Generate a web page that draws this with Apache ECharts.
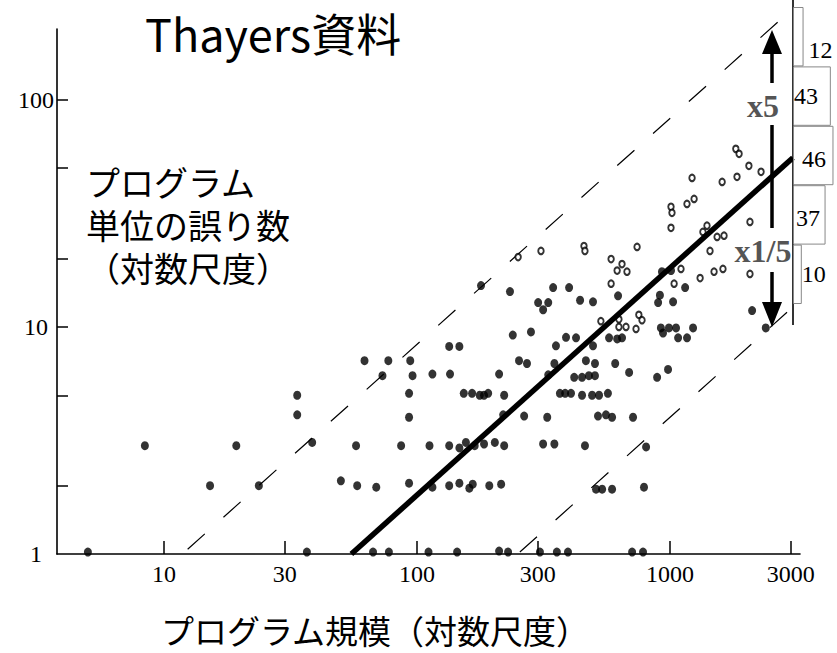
<!DOCTYPE html>
<html>
<head>
<meta charset="utf-8">
<script src="https://cdn.jsdelivr.net/npm/echarts@6/dist/echarts.min.js"></script>
<style>
  html, body { margin: 0; padding: 0; background: #fff; }
  #chart { width: 837px; height: 653px; }
</style>
</head>
<body>
<div id="chart"></div>
<script>
// Axis ticks and labels (log-log plot)
const xTickValues = [10, 30, 100, 300, 1000, 3000];
const yTickValues = [2, 5, 10, 20, 50, 100];
const yLabelValues = [1, 10, 100];

// Programs: [size, errors] — solid dots
const filledPoints = [
  [5.0, 1.02], [8.4, 3], [15.2, 2], [19.3, 3], [23.7, 2], [33.6, 5], [33.6, 4.1], [38.5, 3.1],
  [36.7, 1.02], [50, 2.1], [57.4, 3], [58, 2], [62, 7.1], [69, 1.97], [67, 1.02], [73, 6.1],
  [77, 7.1], [77.4, 1.02], [86.5, 3], [94, 7.1], [96, 6.1], [93, 5.1], [93, 4], [93, 2.05],
  [179, 15.2], [233, 14.3], [301, 12.8], [315, 11.9], [330, 12.8], [239, 9.2], [282, 9.5],
  [134, 8.2], [147, 8.2], [253, 7.1], [272, 6.9], [115, 6.2], [135, 6.2], [211, 6.2],
  [153, 5.1], [165, 5.1], [177, 5], [184, 5], [191, 5.1], [221, 5], [219, 4.1], [265, 4.05],
  [327, 4], [112, 3], [134, 3], [147, 2.93], [156, 3.1], [169, 3], [184, 3.05], [203, 3.1],
  [221, 3], [315, 3.05], [349, 3.05], [115, 1.97], [134, 2], [147, 2.05], [161, 1.95],
  [166, 2.03], [193, 2], [215, 2.03], [111, 1.02], [144, 1.02], [211, 1.03], [229, 1.02],
  [306, 1.02], [357, 1.02], [395, 1.02], [708, 1.02], [782, 1.02],
  [345, 14.9], [399, 14.9], [441, 13.1], [496, 12.9], [623, 13.7], [912, 13.8], [897, 12.8],
  [1028, 12.9], [1147, 14.9], [929, 17.5], [1009, 17.7], [388, 9], [425, 8.95], [574, 8.95],
  [618, 8.85], [646, 8.95], [354, 8.25], [496, 8.25], [920, 9.9], [938, 9.4], [990, 9.9],
  [1056, 9.9], [1076, 8.95], [1167, 8.95], [1233, 9.9], [349, 6.9], [465, 7.1], [505, 6.9],
  [607, 6.9], [689, 6.3], [889, 6], [982, 6.5], [418, 6], [449, 6], [478, 6.1], [505, 6.1],
  [330, 6.15], [367, 5.1], [385, 5.1], [406, 5.1], [449, 5], [492, 5], [524, 5], [568, 5.1],
  [519, 4.05], [558, 4.1], [590, 4], [714, 4], [461, 3], [804, 2.96], [510, 1.93], [539, 1.93],
  [590, 1.93], [789, 1.97], [2110, 11.8], [2390, 9.9]
];

// Programs: [size, errors] — open rings
const openPoints = [
  [251, 20.3], [309, 21.6], [457, 22.7], [461, 21.6], [741, 22.5], [585, 19.9], [646, 18.9],
  [618, 17.7], [676, 17.5], [585, 15.5], [1105, 18], [1038, 15.5], [533, 10.6], [628, 10.8],
  [753, 11.3], [775, 10.7], [628, 10], [670, 10], [734, 9.8], [1820, 60.8], [1875, 57.8],
  [2050, 51.2], [2290, 48.2], [1840, 45.8], [1607, 43.5], [1222, 45.3], [1245, 36.6],
  [1167, 34.8], [1009, 33.8], [1018, 31.8], [1009, 27.3], [2070, 29], [1400, 27.9],
  [1349, 26.2], [1535, 24.9], [1635, 25.2], [1439, 21.6], [2070, 17.1], [1619, 18],
  [1493, 17.5], [1315, 16.4]
];

// Fitted trend and the x5 / x1/5 band (end points)
const fitLine = [[55, 1], [3060, 55.6]];
const upperBand = [[12.4, 1.05], [2670, 220]];
const lowerBand = [[255, 1.02], [2900, 11.6]];

// Residual distribution beside the plot
const histBins = ['b1', 'b2', 'b3', 'b4', 'b5'];
const histCounts = [12, 43, 46, 37, 10];

// Axis-name lines
const yNameLines = ['プログラム', '単位の誤り数', '（対数尺度）'];

const serif = '"Liberation Serif", "DejaVu Serif", serif';
const jp = '"Noto Sans CJK JP", "Noto Sans", sans-serif';

const histLabelPlacement = [
  { position: 'right', distance: 5, offset: [0, 13] },
  { position: 'insideLeft', distance: 1, offset: [0, 0] },
  { position: 'insideLeft', distance: 9, offset: [0, 3] },
  { position: 'insideLeft', distance: 3, offset: [0, 3] },
  { position: 'right', distance: 0, offset: [0, 0] }
];

const chart = echarts.init(document.getElementById('chart'), null, { renderer: 'svg' });

const plainNumber = (v) => String(Math.round(v));

chart.setOption({
  animation: false,
  backgroundColor: '#fff',
  grid: [
    { left: 57, top: 29, width: 743, height: 525 },
    { left: 793, top: 7, width: 45, height: 297 }
  ],
  xAxis: [
    {
      type: 'log', logBase: 10, gridIndex: 0, min: 3.776, max: 3264,
      axisLine: { lineStyle: { color: '#000', width: 1.6 } },
      axisTick: { inside: true, length: 13, customValues: xTickValues, lineStyle: { color: '#000', width: 1.5 } },
      axisLabel: { customValues: xTickValues, formatter: plainNumber, color: '#000', fontFamily: serif, fontSize: 24, margin: 8 },
      splitLine: { show: false },
      minorTick: { show: false }
    },
    { type: 'value', gridIndex: 1, min: 0, max: 50, show: false }
  ],
  yAxis: [
    {
      type: 'log', logBase: 10, gridIndex: 0, min: 1, max: 205,
      axisLine: { lineStyle: { color: '#000', width: 1.6 } },
      axisTick: { inside: true, length: 11, customValues: yTickValues, lineStyle: { color: '#000', width: 1.5 } },
      axisLabel: { customValues: yLabelValues, formatter: plainNumber, color: '#000', fontFamily: serif, fontSize: 24, align: 'center', margin: 21 },
      splitLine: { show: false }
    },
    { type: 'category', gridIndex: 1, data: histBins, inverse: true, show: false }
  ],
  graphic: [
    {
      type: 'text', x: 145, y: 32,
      style: { text: 'Thayers資料', font: '45px ' + jp, fill: '#000', textAlign: 'left', textVerticalAlign: 'middle' }
    },
    ...yNameLines.map((line, i) => ({
      type: 'text', x: 86, y: 181 + i * 43,
      style: {
        text: line, font: '34px ' + jp, fill: '#000',
        textAlign: 'left', textVerticalAlign: 'middle'
      }
    })),
    {
      type: 'text', x: 375, y: 630,
      style: {
        text: 'プログラム規模（対数尺度）', font: '33px ' + jp, fill: '#000',
        textAlign: 'center', textVerticalAlign: 'middle'
      }
    },
    // baseline of the residual histogram
    { type: 'line', shape: { x1: 793, y1: 0, x2: 793, y2: 325 }, style: { stroke: '#000', lineWidth: 1.6 } },
    // double arrow marking the x5 and x1/5 band
    { type: 'polygon', shape: { points: [[772, 30], [762, 54], [782, 54]] }, style: { fill: '#000' } },
    { type: 'line', shape: { x1: 772, y1: 53, x2: 772, y2: 83 }, style: { stroke: '#000', lineWidth: 3.5 } },
    {
      type: 'text', x: 763, y: 106,
      style: { text: 'x5', font: 'bold 32px ' + serif, fill: '#555', textAlign: 'center', textVerticalAlign: 'middle' }
    },
    { type: 'line', shape: { x1: 772, y1: 125, x2: 772, y2: 228 }, style: { stroke: '#000', lineWidth: 3.5 } },
    {
      type: 'text', x: 763, y: 251,
      style: { text: 'x1/5', font: 'bold 32px ' + serif, fill: '#555', textAlign: 'center', textVerticalAlign: 'middle' }
    },
    { type: 'line', shape: { x1: 772, y1: 272, x2: 772, y2: 304 }, style: { stroke: '#000', lineWidth: 3.5 } },
    { type: 'polygon', shape: { points: [[772, 327], [762, 302], [782, 302]] }, style: { fill: '#000' } }
  ],
  series: [
    {
      type: 'line', xAxisIndex: 0, yAxisIndex: 0, data: upperBand, symbol: 'none', clip: false,
      lineStyle: { color: '#000', width: 1.2, type: [23, 25] }, silent: true, z: 2
    },
    {
      type: 'line', xAxisIndex: 0, yAxisIndex: 0, data: lowerBand, symbol: 'none', clip: false,
      lineStyle: { color: '#000', width: 1.2, type: [23, 25] }, silent: true, z: 2
    },
    {
      type: 'scatter', xAxisIndex: 0, yAxisIndex: 0, data: filledPoints, clip: false,
      symbol: 'circle', symbolSize: [8, 9], itemStyle: { color: '#000' }, z: 3
    },
    {
      type: 'scatter', xAxisIndex: 0, yAxisIndex: 0, data: openPoints, clip: false,
      symbol: 'circle', symbolSize: [5.5, 6.5],
      itemStyle: { color: '#fff', borderColor: '#000', borderWidth: 2 }, z: 3
    },
    {
      type: 'line', xAxisIndex: 0, yAxisIndex: 0, data: fitLine, symbol: 'none', clip: false,
      lineStyle: { color: '#000', width: 5.5 }, silent: true, z: 4
    },
    {
      type: 'bar', xAxisIndex: 1, yAxisIndex: 1, barCategoryGap: '0%',
      data: histCounts.map((v, i) => ({
        value: v,
        label: {
          show: true,
          position: histLabelPlacement[i].position,
          distance: histLabelPlacement[i].distance,
          offset: histLabelPlacement[i].offset
        }
      })),
      itemStyle: { color: 'rgba(255,255,255,0)', borderColor: '#888', borderWidth: 1 },
      label: { color: '#000', fontFamily: serif, fontSize: 24 },
      z: 5
    }
  ]
});
</script>
</body>
</html>
